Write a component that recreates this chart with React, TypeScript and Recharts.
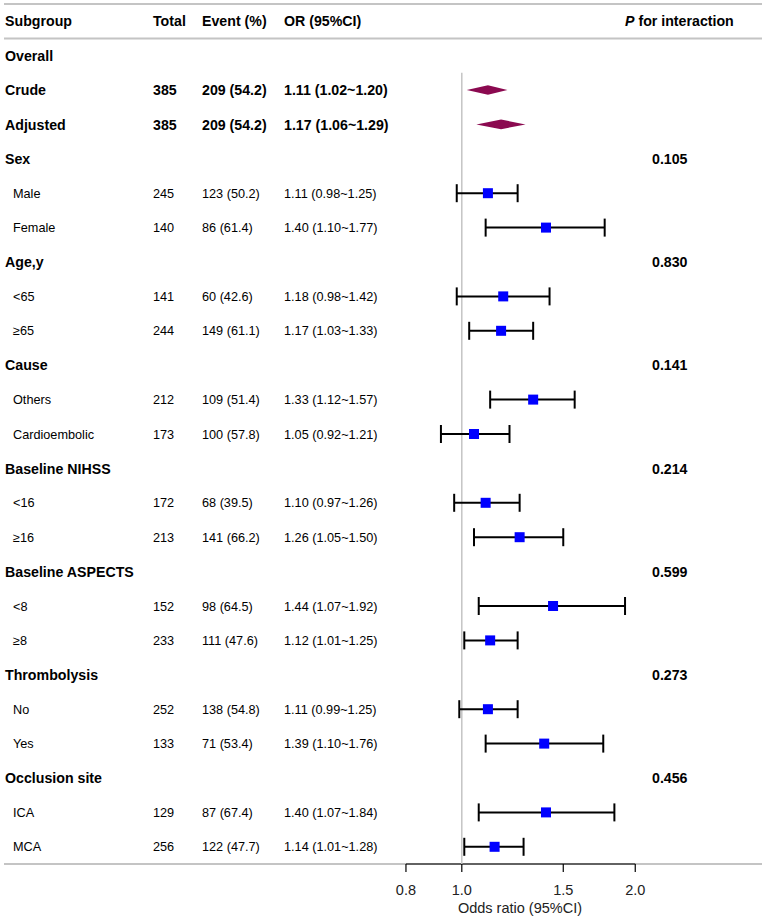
import { ScatterChart, Scatter, XAxis, YAxis, ErrorBar, ReferenceLine, ReferenceArea } from 'recharts'

const subgroups = [
  'Overall', 'Crude', 'Adjusted',
  'Sex', 'Male', 'Female',
  'Age,y', '<65', '≥65',
  'Cause', 'Others', 'Cardioembolic',
  'Baseline NIHSS', '<16', '≥16',
  'Baseline ASPECTS', '<8', '≥8',
  'Thrombolysis', 'No', 'Yes',
  'Occlusion site', 'ICA', 'MCA',
]
// h = heading, o = overall estimate (diamond), s = subgroup level (square + CI)
const rowKinds = ['h', 'o', 'o', 'h', 's', 's', 'h', 's', 's', 'h', 's', 's', 'h', 's', 's', 'h', 's', 's', 'h', 's', 's', 'h', 's', 's']
const totals = [null, 385, 385, null, 245, 140, null, 141, 244, null, 212, 173, null, 172, 213, null, 152, 233, null, 252, 133, null, 129, 256]
const eventCounts = [null, 209, 209, null, 123, 86, null, 60, 149, null, 109, 100, null, 68, 141, null, 98, 111, null, 138, 71, null, 87, 122]
const eventPcts = [null, 54.2, 54.2, null, 50.2, 61.4, null, 42.6, 61.1, null, 51.4, 57.8, null, 39.5, 66.2, null, 64.5, 47.6, null, 54.8, 53.4, null, 67.4, 47.7]
const orEst = [null, 1.11, 1.17, null, 1.11, 1.4, null, 1.18, 1.17, null, 1.33, 1.05, null, 1.1, 1.26, null, 1.44, 1.12, null, 1.11, 1.39, null, 1.4, 1.14]
const orLow = [null, 1.02, 1.06, null, 0.98, 1.1, null, 0.98, 1.03, null, 1.12, 0.92, null, 0.97, 1.05, null, 1.07, 1.01, null, 0.99, 1.1, null, 1.07, 1.01]
const orHigh = [null, 1.2, 1.29, null, 1.25, 1.77, null, 1.42, 1.33, null, 1.57, 1.21, null, 1.26, 1.5, null, 1.92, 1.25, null, 1.25, 1.76, null, 1.84, 1.28]
const pInteraction = [null, null, null, 0.105, null, null, 0.83, null, null, 0.141, null, null, 0.214, null, null, 0.599, null, null, 0.273, null, null, 0.456, null, null]
const xTicks = [0.8, 1, 1.5, 2]

const FONT = '"Liberation Sans", Arial, Helvetica, sans-serif'
const BOLD = 14.2
const REG = 12.7
const COL = { label: 5, sub: 13, total: 153, event: 202, or: 284, p: 652 }

const squares = subgroups
  .map((_, i) => i)
  .filter((i) => rowKinds[i] === 's')
  .map((i) => ({
    row: i,
    or: orEst[i] as number,
    ci: [(orEst[i] as number) - (orLow[i] as number), (orHigh[i] as number) - (orEst[i] as number)],
  }))

const diamonds = subgroups.map((_, i) => i).filter((i) => rowKinds[i] === 'o')

const rowTicks = [-1, ...subgroups.map((_, i) => i)]

// the table columns are drawn as the y-axis tick of each row
function RowText(props: any) {
  const i = props.payload.value as number
  const y = props.y as number
  if (i === -1) {
    const by = y + BOLD * 0.36
    return (
      <g fontFamily={FONT} fontSize={BOLD} fontWeight="bold" fill="#000">
        <text x={COL.label} y={by}>Subgroup</text>
        <text x={COL.total} y={by}>Total</text>
        <text x={COL.event} y={by}>Event (%)</text>
        <text x={COL.or} y={by}>OR (95%CI)</text>
        <text x={625} y={by}>
          <tspan fontStyle="italic">P</tspan> for interaction
        </text>
      </g>
    )
  }
  const kind = rowKinds[i]
  const bold = kind !== 's'
  const fs = bold ? BOLD : REG
  const by = y + fs * 0.36
  return (
    <g fontFamily={FONT} fontSize={fs} fontWeight={bold ? 'bold' : 'normal'} fill="#000">
      <text x={kind === 's' ? COL.sub : COL.label} y={by}>{subgroups[i]}</text>
      {totals[i] != null && <text x={COL.total} y={by}>{totals[i]}</text>}
      {eventCounts[i] != null && (
        <text x={COL.event} y={by}>{`${eventCounts[i]} (${(eventPcts[i] as number).toFixed(1)})`}</text>
      )}
      {orEst[i] != null && (
        <text x={COL.or} y={by}>
          {`${(orEst[i] as number).toFixed(2)} (${(orLow[i] as number).toFixed(2)}~${(orHigh[i] as number).toFixed(2)})`}
        </text>
      )}
      {pInteraction[i] != null && (
        <text x={COL.p} y={by}>{(pInteraction[i] as number).toFixed(3)}</text>
      )}
    </g>
  )
}

function Square(props: any) {
  const s = 10
  return <rect x={props.cx - s / 2} y={props.cy - s / 2} width={s} height={s} fill="#0000FF" />
}

function diamondShape(i: number) {
  return (props: any) => {
    const { x, y, width, height } = props
    const lo = Math.log(orLow[i] as number)
    const hi = Math.log(orHigh[i] as number)
    const cx = x + (width * (Math.log(orEst[i] as number) - lo)) / (hi - lo)
    const cy = y + height / 2
    return (
      <polygon
        points={`${x},${cy} ${cx},${y} ${x + width},${cy} ${cx},${y + height}`}
        fill="#8B0A50"
      />
    )
  }
}

export default function App() {
  return (
    <div style={{ position: 'absolute', left: 0, top: 0, width: 767, height: 919, background: '#fff' }}>
      <ScatterChart width={767} height={919} margin={{ top: 4, right: 5, left: 3, bottom: 0 }}>
        <XAxis
          type="number"
          dataKey="or"
          scale="log"
          domain={[0.1605, 3.319]}
          allowDataOverflow
          ticks={xTicks}
          interval={0}
          tickFormatter={(v: number) => v.toFixed(1)}
          axisLine={false}
          tickLine={{ stroke: '#000', strokeWidth: 1.2 }}
          tickSize={8}
          tickMargin={13}
          height={55}
          tick={{ fontFamily: FONT, fontSize: 14.5, fill: '#222' }}
          label={{
            content: () => (
              <text x={520} y={913} textAnchor="middle" fontFamily={FONT} fontSize={14.5} fill="#222">
                Odds ratio (95%CI)
              </text>
            ),
          }}
        />
        <YAxis
          type="number"
          dataKey="row"
          domain={[-1.5, 23.5]}
          reversed
          allowDataOverflow
          width={1}
          ticks={rowTicks}
          interval={0}
          axisLine={false}
          tickLine={false}
          tick={<RowText />}
        />
        <ReferenceLine y={-1.5} stroke="#c4c4c4" strokeWidth={2} />
        <ReferenceLine y={-0.5} stroke="#c4c4c4" strokeWidth={2} />
        <ReferenceLine y={23.5} stroke="#c4c4c4" strokeWidth={2} />
        <ReferenceLine
          segment={[{ x: 0.8, y: 23.5 }, { x: 2, y: 23.5 }]}
          stroke="#000"
          strokeWidth={1.2}
        />
        <ReferenceLine
          segment={[{ x: 1, y: 0.5 }, { x: 1, y: 23.5 }]}
          stroke="#c4c4c4"
          strokeWidth={1.5}
        />
        {diamonds.map((i) => (
          <ReferenceArea
            key={i}
            x1={orLow[i] as number}
            x2={orHigh[i] as number}
            y1={i - 0.14}
            y2={i + 0.14}
            shape={diamondShape(i)}
          />
        ))}
        <Scatter data={squares} shape={<Square />} isAnimationActive={false}>
          <ErrorBar dataKey="ci" direction="x" width={9} stroke="#000" strokeWidth={2} isAnimationActive={false} />
        </Scatter>
      </ScatterChart>
    </div>
  )
}
